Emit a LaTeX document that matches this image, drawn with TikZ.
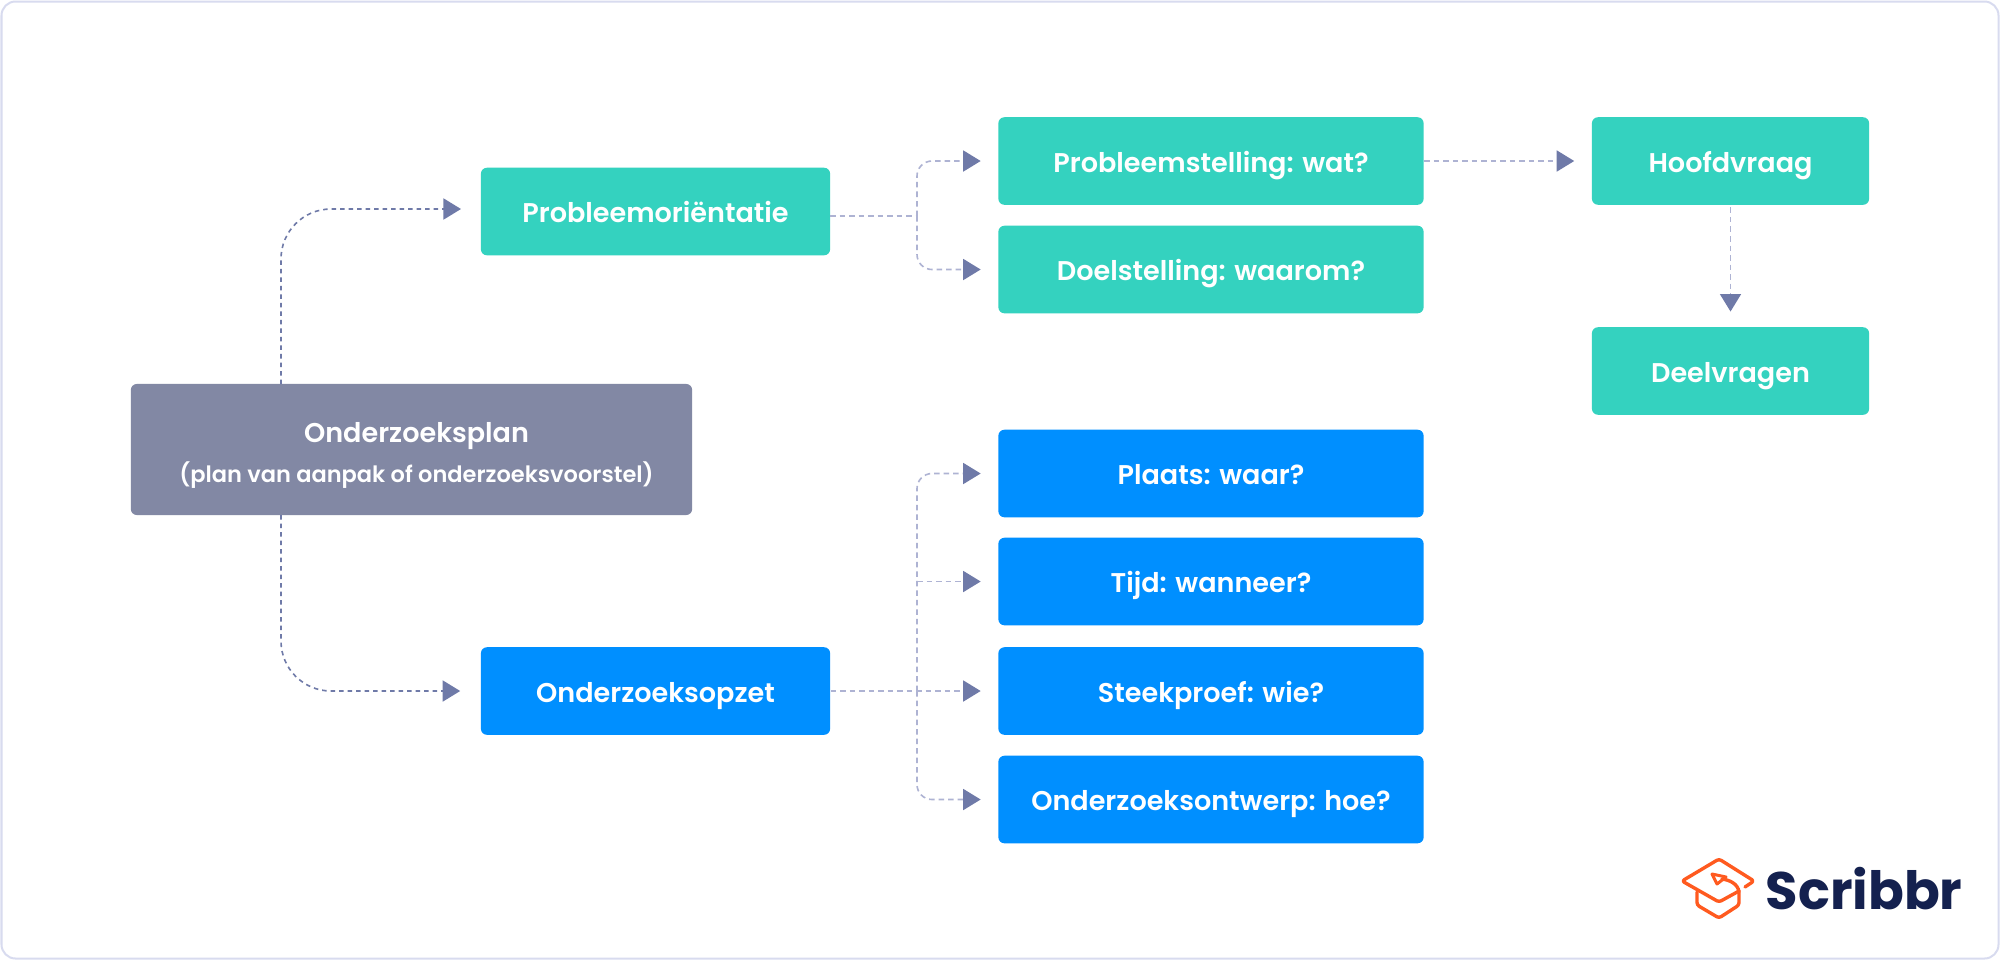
\documentclass[tikz,border=0pt]{standalone}
\usepackage{fontspec}
\setmainfont{Poppins}[UprightFont={* SemiBold},BoldFont={* Bold}]
\usetikzlibrary{arrows.meta}

\definecolor{frameblue}{HTML}{D8DBEF}
\definecolor{planblue}{HTML}{8288A4}
\definecolor{tealbox}{HTML}{34D2BF}
\definecolor{bluebox}{HTML}{008FFF}
\definecolor{tipblue}{HTML}{6F7AA8}
\definecolor{dashblue}{HTML}{AEB3D3}
\definecolor{capred}{HTML}{FF5A1F}
\definecolor{logoblue}{HTML}{14214F}

\tikzset{
  box/.style={rectangle,rounded corners=.06cm,inner sep=0pt,text=white,font=\fontsize{7.7}{10}\selectfont,text height=.22cm,text depth=0pt},
  bigbox/.style={box,minimum width=3.49cm,minimum height=.875cm},
  wide/.style={box,minimum width=4.25cm,minimum height=.875cm},
  small/.style={box,minimum width=2.77cm,minimum height=.875cm},
  link/.style={dash pattern=on .045cm off .04cm,line width=.016cm,tipblue,-{Triangle[length=.175cm,width=.21cm]}},
  sublink/.style={dash pattern=on .055cm off .04cm,line width=.016cm,dashblue,-{Triangle[length=.175cm,width=.21cm,color=tipblue]},shorten >=.17cm},
}

\begin{document}
\begin{tikzpicture}[x=.01cm,y=-.01cm]
  \useasboundingbox (0,0) rectangle (2000,960);
  \draw[frameblue,line width=.02cm,rounded corners=.14cm,fill=white] (1.5,1.5) rectangle (1998.5,958.5);

  \node[box,fill=planblue,minimum width=5.61cm,minimum height=1.31cm,text height=.65cm,text depth=0pt,align=center] (plan) at (411.5,449.5) {\hspace*{.1cm}Onderzoeksplan\\[.04cm]\hspace*{.1cm}\fontsize{6.4}{9}\selectfont (plan van aanpak of onderzoeksvoorstel)};

  \node[bigbox,fill=tealbox] (probori) at (655.5,211.5) {Probleemoriëntatie};
  \node[bigbox,fill=bluebox] (opzet) at (655.5,691) {Onderzoeksopzet};

  \node[wide,fill=tealbox] (stelling) at (1211,161) {Probleemstelling: wat?};
  \node[wide,fill=tealbox] (doel) at (1211,269.5) {Doelstelling: waarom?};
  \node[wide,fill=bluebox] (plaats) at (1211,473.5) {Plaats: waar?};
  \node[wide,fill=bluebox] (tijd) at (1211,581.5) {Tijd: wanneer?};
  \node[wide,fill=bluebox] (steekproef) at (1211,691) {Steekproef: wie?};
  \node[wide,fill=bluebox] (ontwerp) at (1211,799.5) {Onderzoeksontwerp: hoe?};

  \node[small,fill=tealbox] (hoofd) at (1730.5,161) {Hoofdvraag};
  \node[small,fill=tealbox] (deel) at (1730.5,371) {Deelvragen};

  \coordinate (planup) at (281,384);
  \coordinate (plandown) at (281,515);
  \coordinate (oriin) at (481,209);
  \coordinate (oriout) at (830,216);
  \coordinate (forka) at (917,216);
  \coordinate (forkb) at (917,691);

  \draw[link,rounded corners=.5cm,shorten >=.2cm] (planup) |- (oriin);
  \draw[link,rounded corners=.5cm,shorten >=.2cm] (plandown) |- (opzet.west);

  \draw[sublink,-,shorten >=0pt] (oriout) -- (forka);
  \foreach \to in {stelling,doel}
    \draw[sublink,rounded corners=.15cm] (forka) |- (\to.west);

  \draw[sublink] (opzet.east) -- (steekproef.west);
  \draw[sublink] (forkb |- tijd.west) -- (tijd.west);
  \foreach \to in {plaats,ontwerp}
    \draw[sublink,rounded corners=.15cm] (forkb) |- (\to.west);

  \draw[sublink] (stelling.east) -- (hoofd.west);
  \draw[sublink,shorten >=.15cm,shorten <=.02cm] (hoofd.south) -- (deel.north);

  % logo
  \draw[capred,line width=.034cm,line cap=round,line join=round,rounded corners=.025cm]
    (1745,887) -- (1754,881) -- (1719,859) -- (1682,881) -- (1719,902) -- (1739,891);
  \draw[capred,line width=.034cm,line cap=round,line join=round,rounded corners=.025cm]
    (1697,892) -- (1697,905) -- (1719,918) -- (1739,905) -- (1739,892);
  \draw[capred,line width=.034cm,line cap=round,line join=round]
    (1739,892) .. controls (1738,884) and (1730,880) .. (1722,879);
  \draw[capred,line width=.03cm,line join=round] (1712,874) -- (1726,877) -- (1717,884) -- cycle;
  \node[logoblue,inner sep=0pt,anchor=base west,font=\fontsize{15}{20}\selectfont\bfseries] (logo) at (1765,909) {Scribbr};
\end{tikzpicture}
\end{document}
